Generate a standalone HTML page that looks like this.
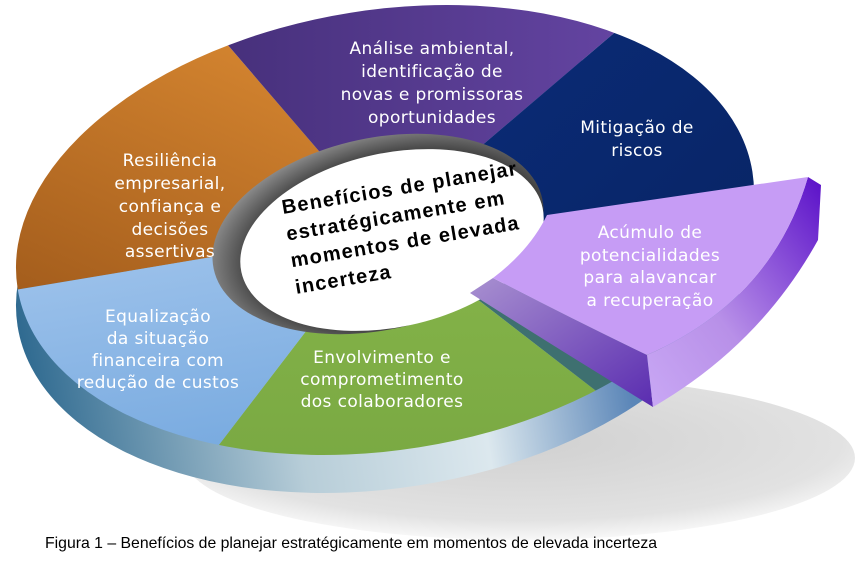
<!DOCTYPE html>
<html><head><meta charset="utf-8"><style>
html,body{margin:0;padding:0;background:#fff;width:855px;height:562px;overflow:hidden}
svg{display:block}
.l{font-family:"DejaVu Sans","Liberation Sans",sans-serif;font-size:17px;letter-spacing:0.4px;fill:#fff;text-anchor:middle}
.c{font-family:"Liberation Sans",Arial,sans-serif;font-size:20px;letter-spacing:1.2px;font-weight:bold;fill:#000}
</style></head><body>
<svg width="855" height="562" viewBox="0 0 855 562" xmlns="http://www.w3.org/2000/svg">
<defs>
<radialGradient id="sh" cx="0.5" cy="0.4" r="0.6"><stop offset="0" stop-color="#d0d0d0"/><stop offset="0.8" stop-color="#e2e2e2"/><stop offset="1" stop-color="#f8f8f8"/></radialGradient>
<linearGradient id="side" x1="0" y1="0" x2="1" y2="0"><stop offset="0" stop-color="#2f6a90"/><stop offset="0.35" stop-color="#b7cdd8"/><stop offset="0.6" stop-color="#dce8ee"/><stop offset="0.8" stop-color="#5b86b8"/><stop offset="1" stop-color="#3c7a9c"/></linearGradient>
<linearGradient id="or" x1="0.6" y1="0" x2="0.1" y2="1"><stop offset="0" stop-color="#f8a23e"/><stop offset="1" stop-color="#8a4812"/></linearGradient>
<linearGradient id="pu" x1="0" y1="0" x2="1" y2="0"><stop offset="0" stop-color="#3e2a70"/><stop offset="1" stop-color="#7550b8"/></linearGradient>
<linearGradient id="nv" x1="0" y1="0" x2="1" y2="1"><stop offset="0" stop-color="#0b2f80"/><stop offset="1" stop-color="#071f58"/></linearGradient>
<linearGradient id="bl" x1="0" y1="0" x2="0.3" y2="1"><stop offset="0" stop-color="#aecdf0"/><stop offset="1" stop-color="#5f9ad8"/></linearGradient>
<linearGradient id="gr" x1="0" y1="0" x2="0" y2="1"><stop offset="0" stop-color="#86b54a"/><stop offset="1" stop-color="#6f9e3c"/></linearGradient>
<radialGradient id="hole" cx="0.55" cy="0.55" r="0.6"><stop offset="0.6" stop-color="#111"/><stop offset="1" stop-color="#9a9a9a"/></radialGradient>
<linearGradient id="lvl" x1="0" y1="0" x2="1" y2="1"><stop offset="0" stop-color="#a890d0"/><stop offset="1" stop-color="#5a2cb0"/></linearGradient>
<linearGradient id="lvr" x1="1" y1="0" x2="0" y2="1"><stop offset="0" stop-color="#5a10c8"/><stop offset="0.6" stop-color="#b890e8"/><stop offset="1" stop-color="#c9a8f5"/></linearGradient>
<clipPath id="top"><ellipse cx="385" cy="230" rx="372" ry="220" transform="rotate(-9 385 230)"/></clipPath>
</defs>
<ellipse cx="520" cy="458" rx="335" ry="82" fill="url(#sh)"/>
<ellipse cx="385" cy="268" rx="372" ry="220" transform="rotate(-9 385 268)" fill="url(#side)"/>
<g clip-path="url(#top)">
<polygon points="385,228 -355,352 -355,-300 105,-98" fill="url(#or)"/>
<polygon points="385,228 105,-98 855,-172" fill="url(#pu)"/>
<polygon points="385,228 855,-172 1000,-100 1000,420" fill="url(#nv)"/>
<polygon points="385,228 1000,420 815,560" fill="#3e7070"/>
<polygon points="385,228 815,560 45,672" fill="url(#gr)"/>
<polygon points="385,228 45,672 -355,352" fill="url(#bl)"/>
</g>
<ellipse cx="378" cy="234" rx="168" ry="96" transform="rotate(-12 378 234)" fill="url(#hole)"/>
<ellipse cx="392" cy="240" rx="154" ry="87" transform="rotate(-12 392 240)" fill="#fff"/>
<path d="M493,278 L470,293 Q560,350 653,407 L647,355 Q570,318 493,278 Z" fill="url(#lvl)"/>
<path d="M808,177 L821,185 L818,240 Q760,345 653,407 L647,355 Q772,300 808,177 Z" fill="url(#lvr)"/>
<path d="M493,278 Q530,250 547,215 L808,177 Q772,300 647,355 Q570,318 493,278 Z" fill="#c69cf5"/>
<text class="l"><tspan x="432" y="54">Análise ambiental,</tspan><tspan x="432" y="77">identificação de</tspan><tspan x="432" y="100">novas e promissoras</tspan><tspan x="432" y="123">oportunidades</tspan></text>
<text class="l"><tspan x="637" y="133">Mitigação de</tspan><tspan x="637" y="156">riscos</tspan></text>
<text class="l"><tspan x="170" y="166">Resiliência</tspan><tspan x="170" y="189">empresarial,</tspan><tspan x="170" y="212">confiança e</tspan><tspan x="170" y="235">decisões</tspan><tspan x="170" y="257">assertivas</tspan></text>
<text class="l" fill="#f0e8ff"><tspan x="650" y="238">Acúmulo de</tspan><tspan x="650" y="261">potencialidades</tspan><tspan x="650" y="283">para alavancar</tspan><tspan x="650" y="306">a recuperação</tspan></text>
<text class="l"><tspan x="158" y="322">Equalização</tspan><tspan x="158" y="344">da situação</tspan><tspan x="158" y="366">financeira com</tspan><tspan x="158" y="388">redução de custos</tspan></text>
<text class="l"><tspan x="382" y="363">Envolvimento e</tspan><tspan x="382" y="385">comprometimento</tspan><tspan x="382" y="407">dos colaboradores</tspan></text>
<g transform="rotate(-9.5 283 214)"><text class="c"><tspan x="283" y="214">Benefícios de planejar</tspan><tspan x="283" y="241">estratégicamente em</tspan><tspan x="283" y="268">momentos de elevada</tspan><tspan x="283" y="295">incerteza</tspan></text></g>
<text x="45" y="548" font-family="Liberation Sans,Arial,sans-serif" font-size="15.8" fill="#000">Figura 1 – Benefícios de planejar estratégicamente em momentos de elevada incerteza</text>
</svg>
</body></html>
